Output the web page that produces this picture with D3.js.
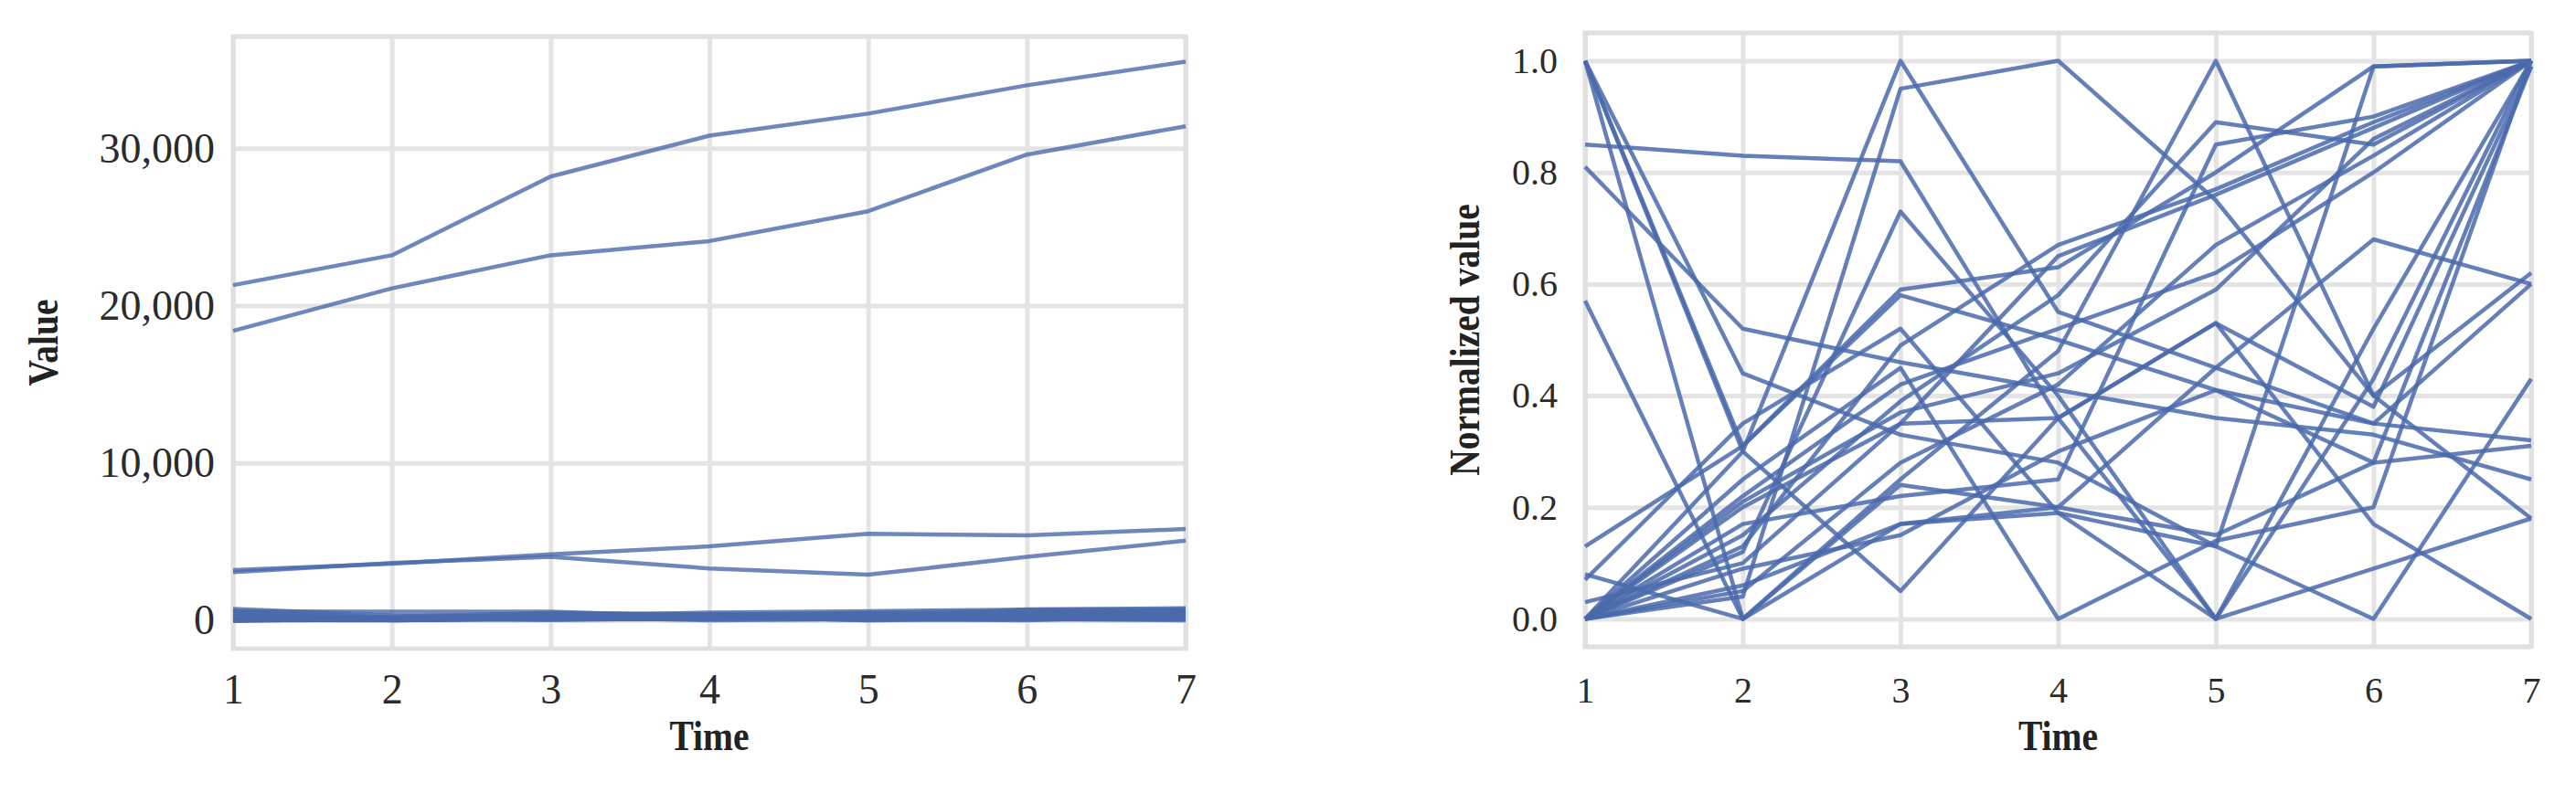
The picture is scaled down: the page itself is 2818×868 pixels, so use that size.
<!DOCTYPE html>
<html>
<head>
<meta charset="utf-8">
<script src="https://cdn.jsdelivr.net/npm/d3@7"></script>
<style>
  html, body { margin: 0; padding: 0; background: #fff; }
  svg { display: block; }
</style>
</head>
<body>
<svg id="chart" width="2818" height="868"></svg>
<script>
// ---------------- DATA ----------------
const times = [1, 2, 3, 4, 5, 6, 7];
const xTickLabels = ["1", "2", "3", "4", "5", "6", "7"];
const leftYTicks = [0, 10000, 20000, 30000];
const rightYTicks = [0.0, 0.2, 0.4, 0.6, 0.8, 1.0];

// raw values (left panel): four large series
const largeSeries1 = [21300, 23200, 28200, 30800, 32200, 34000, 35500];
const largeSeries2 = [18400, 21100, 23200, 24100, 26000, 29600, 31400];
const largeSeries3 = [3200, 3600, 4200, 4700, 5500, 5400, 5800];
const largeSeries4 = [3060, 3650, 4030, 3300, 2900, 4030, 5060];

// raw values (left panel): small series forming the band near zero
const smallSeries = [
  [571, 558, 550, 242, 0, 290, 672],
  [608, 189, 358, 382, 486, 602, 608],
  [480, 0, 115, 96, 72, 134, 149],
  [416, 125, 21, 150, 221, 70, 0],
  [720, 317, 238, 202, 94, 0, 310],
  [259, 166, 147, 131, 115, 106, 80],
  [320, 0, 96, 112, 253, 381, 336],
  [104, 248, 464, 400, 328, 280, 256],
  [35, 0, 112, 214, 448, 179, 80],
  [22, 77, 269, 499, 584, 675, 768],
  [0, 26, 144, 214, 342, 426, 512],
  [0, 10, 229, 240, 181, 96, 149],
  [0, 115, 384, 211, 173, 134, 230],
  [0, 77, 467, 256, 0, 58, 115],
  [0, 126, 242, 299, 357, 461, 576],
  [0, 50, 64, 72, 245, 259, 288],
  [0, 42, 120, 134, 91, 698, 704],
  [0, 38, 66, 130, 178, 122, 427],
  [0, 125, 224, 0, 69, 99, 496],
  [0, 74, 130, 133, 195, 139, 365]
];

// normalized values (right panel)
const normalizedSeries = [
  [0, 0.13, 0.49, 0.67, 0.77, 0.89, 1],
  [0, 0.21, 0.37, 0.44, 0.59, 0.86, 1],
  [0, 0.15, 0.39, 0.58, 0.89, 0.85, 1],
  [0.07, 0.35, 0.52, 0.19, 0, 0.52, 1],
  [0.85, 0.83, 0.82, 0.36, 0, 0.43, 1],
  [1, 0.31, 0.59, 0.63, 0.80, 0.99, 1],
  [1, 0, 0.24, 0.20, 0.15, 0.28, 0.31],
  [1, 0.30, 0.05, 0.36, 0.53, 0.17, 0],
  [1, 0.44, 0.33, 0.28, 0.13, 0, 0.43],
  [0.81, 0.52, 0.46, 0.41, 0.36, 0.33, 0.25],
  [0.57, 0, 0.17, 0.20, 0.45, 0.68, 0.60],
  [0.13, 0.31, 0.58, 0.50, 0.41, 0.35, 0.32],
  [0.08, 0, 0.25, 0.48, 1, 0.40, 0.18],
  [0.03, 0.10, 0.35, 0.65, 0.76, 0.88, 1],
  [0, 0.05, 0.28, 0.42, 0.67, 0.83, 1],
  [0, 0.04, 0.95, 1, 0.75, 0.40, 0.62],
  [0, 0.30, 1, 0.55, 0.45, 0.35, 0.60],
  [0, 0.12, 0.73, 0.40, 0, 0.09, 0.18],
  [0, 0.22, 0.42, 0.52, 0.62, 0.80, 1],
  [0, 0.17, 0.22, 0.25, 0.85, 0.90, 1],
  [0, 0.06, 0.17, 0.19, 0.13, 0.99, 1],
  [0, 0.09, 0.15, 0.30, 0.41, 0.28, 0.99],
  [0, 0.25, 0.45, 0, 0.14, 0.20, 1],
  [0, 0.20, 0.35, 0.36, 0.53, 0.38, 0.99]
];

// ---------------- STYLE ----------------
const lineColor = "#4a6aab";
const gridColor = "#e4e4e4";
const frameColor = "#e0e0e0";
const serif = "'Liberation Serif', 'DejaVu Serif', serif";

const svg = d3.select("#chart");

function drawPanel(opts) {
  const { left, right, top, bottom, yDomain, yTicks, yFormat, yPad, xPad, tickFont,
          yLabel, yLabelX, series, opacity } = opts;
  const x = d3.scaleLinear().domain([1, 7]).range([left, right]);
  const y = d3.scaleLinear().domain(yDomain).range([bottom, top]);
  const g = svg.append("g");

  const xAxis = d3.axisBottom(x).tickValues(times)
    .tickFormat((d, i) => xTickLabels[i])
    .tickSizeInner(-(bottom - top)).tickSizeOuter(0).tickPadding(xPad);
  const gx = g.append("g").attr("transform", `translate(0,${bottom})`).call(xAxis);
  const yAxis = d3.axisLeft(y).tickValues(yTicks).tickFormat(yFormat)
    .tickSizeInner(-(right - left)).tickSizeOuter(0).tickPadding(yPad);
  const gy = g.append("g").attr("transform", `translate(${left},0)`).call(yAxis);

  [gx, gy].forEach(ax => {
    ax.select(".domain").remove();
    ax.selectAll(".tick line").attr("stroke", gridColor).attr("stroke-width", 5);
    ax.selectAll(".tick text")
      .attr("fill", "#2b2b2b")
      .style("font-family", serif)
      .style("font-size", tickFont + "px");
  });

  g.append("rect")
    .attr("x", left).attr("y", top)
    .attr("width", right - left).attr("height", bottom - top)
    .attr("fill", "none").attr("stroke", frameColor).attr("stroke-width", 5);

  const line = d3.line().x((d, i) => x(times[i])).y(d => y(d));
  g.append("g").selectAll("path").data(series).join("path")
    .attr("d", line)
    .attr("fill", "none")
    .attr("stroke", lineColor)
    .attr("stroke-opacity", opacity)
    .attr("stroke-width", 4.5)
    .attr("stroke-linejoin", "round");

  g.append("text")
    .attr("transform", `translate(${(left + right) / 2},821) scale(0.86,1)`)
    .attr("text-anchor", "middle")
    .attr("fill", "#222")
    .style("font-family", serif).style("font-weight", "bold").style("font-size", "46px")
    .text("Time");
  g.append("text")
    .attr("transform", `translate(${yLabelX},${(top + bottom) / 2}) rotate(-90) scale(0.86,1)`)
    .attr("text-anchor", "middle")
    .attr("dominant-baseline", "middle")
    .attr("fill", "#222")
    .style("font-family", serif).style("font-weight", "bold").style("font-size", "46px")
    .text(yLabel);
}

drawPanel({
  left: 255, right: 1297, top: 40, bottom: 710,
  yDomain: [-1800, 37100], yTicks: leftYTicks,
  yFormat: d3.format(","), yPad: 20, xPad: 27, tickFont: 46,
  yLabel: "Value", yLabelX: 52,
  series: [largeSeries1, largeSeries2, largeSeries3, largeSeries4, ...smallSeries],
  opacity: 0.8
});

drawPanel({
  left: 1734, right: 2769, top: 36, bottom: 708,
  yDomain: [-0.05, 1.05], yTicks: rightYTicks,
  yFormat: d3.format(".1f"), yPad: 30, xPad: 33, tickFont: 40,
  yLabel: "Normalized value", yLabelX: 1607,
  series: normalizedSeries,
  opacity: 0.85
});
</script>
</body>
</html>
